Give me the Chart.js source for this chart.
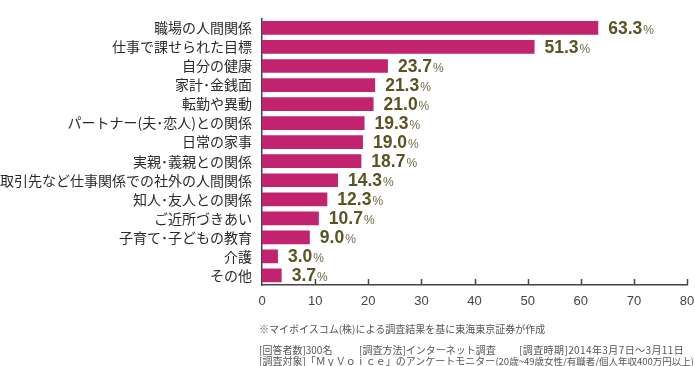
<!DOCTYPE html>
<html>
<head>
<meta charset="utf-8">
<script src="https://cdn.jsdelivr.net/npm/chart.js@4/dist/chart.umd.min.js"></script>
<style>
  html, body { margin: 0; padding: 0; background: #fff; }
  #wrap { position: relative; width: 695px; height: 366px; }
  .note { position: absolute; font-family: "Noto Sans CJK JP", sans-serif; font-size: 10px; color: #555; white-space: nowrap; line-height: 12px; }
  .small { font-size: 9.5px; }
</style>
</head>
<body>
<div id="wrap">
  <canvas id="canvas-1" width="695" height="366"></canvas>
  <div class="note" style="left:259px; top:323px;">※マイボイスコム(株)による調査結果を基に東海東京証券が作成</div>
  <div class="note" style="left:259px; top:344px;">[回答者数]300名</div>
  <div class="note" style="left:359px; top:344px;">[調査方法]インターネット調査</div>
  <div class="note" style="left:519px; top:344px; letter-spacing:0.4px;">[調査時期]2014年3月7日～3月11日</div>
  <div class="note" style="left:259px; top:355px;">[調査対象]「ＭｙＶｏｉｃｅ」のアンケートモニター<span class="small">(20歳~49歳女性/有職者/個人年収400万円以上)</span></div>
</div>
<script>
// categories and values (%)
const categories = [
  "職場の人間関係",
  "仕事で課せられた目標",
  "自分の健康",
  "家計･金銭面",
  "転勤や異動",
  "パートナー(夫･恋人)との関係",
  "日常の家事",
  "実親･義親との関係",
  "取引先など仕事関係での社外の人間関係",
  "知人･友人との関係",
  "ご近所づきあい",
  "子育て･子どもの教育",
  "介護",
  "その他",
];
const values = [63.3, 51.3, 23.7, 21.3, 21.0, 19.3, 19.0, 18.7, 14.3, 12.3, 10.7, 9.0, 3.0, 3.7];
const xTicks = [0, 10, 20, 30, 40, 50, 60, 70, 80];

// value labels after each bar: bold number + small "%"
const valueLabels = {
  id: "valueLabels",
  afterDatasetsDraw(chart) {
    const ctx = chart.ctx;
    const meta = chart.getDatasetMeta(0);
    ctx.save();
    meta.data.forEach((bar, i) => {
      const txt = values[i].toFixed(1);
      const x = bar.x + 10;
      const y = bar.y + 6;
      ctx.textBaseline = "alphabetic";
      ctx.textAlign = "left";
      ctx.font = "bold 17.5px 'Liberation Sans', Arial, sans-serif";
      ctx.fillStyle = "#5a5322";
      ctx.fillText(txt, x, y);
      const w = ctx.measureText(txt).width;
      ctx.font = "12px 'Liberation Sans', Arial, sans-serif";
      ctx.fillStyle = "#6e6946";
      ctx.fillText("%", x + w + 1, y);
    });
    ctx.restore();
  },
};

// short tick marks pointing up from the x axis
const innerTicks = {
  id: "innerTicks",
  afterDraw(chart) {
    const ctx = chart.ctx;
    const xs = chart.scales.x;
    const bottom = chart.chartArea.bottom;
    ctx.save();
    ctx.strokeStyle = "#444";
    ctx.lineWidth = 1.5;
    xTicks.forEach((v) => {
      if (v === 0) return;
      const px = Math.round(xs.getPixelForValue(v)) + 0.5;
      ctx.beginPath();
      ctx.moveTo(px, bottom);
      ctx.lineTo(px, bottom - 6);
      ctx.stroke();
    });
    ctx.restore();
  },
};

new Chart(document.getElementById("canvas-1"), {
  type: "bar",
  data: {
    labels: categories,
    datasets: [
      {
        data: values,
        backgroundColor: "#c1236f",
        borderWidth: 0,
        categoryPercentage: 1,
        barPercentage: 0.72,
      },
    ],
  },
  options: {
    indexAxis: "y",
    responsive: false,
    animation: false,
    layout: { padding: { top: 0, right: 0, bottom: 0, left: 0 } },
    plugins: { legend: { display: false }, tooltip: { enabled: false } },
    scales: {
      x: {
        min: 0,
        max: 80,
        afterBuildTicks(s) {
          s.ticks = xTicks.map((v) => ({ value: v }));
        },
        afterFit(s) {
          s.height = 81;
          s.paddingRight = 8;
        },
        grid: { display: false, drawTicks: false },
        border: { display: true, color: "#444", width: 1.5 },
        ticks: {
          padding: 9,
          color: "#444",
          font: { family: "'Liberation Sans', Arial, sans-serif", size: 13 },
          maxRotation: 0,
        },
      },
      y: {
        afterFit(s) {
          s.width = 262;
        },
        grid: { display: false, drawTicks: false },
        border: { display: true, color: "#444", width: 1.5 },
        ticks: {
          padding: 10,
          color: "#2a2a2a",
          font: { family: "'Noto Sans CJK JP', sans-serif", size: 14 },
          autoSkip: false,
        },
      },
    },
  },
  plugins: [valueLabels, innerTicks],
});
</script>
</body>
</html>
